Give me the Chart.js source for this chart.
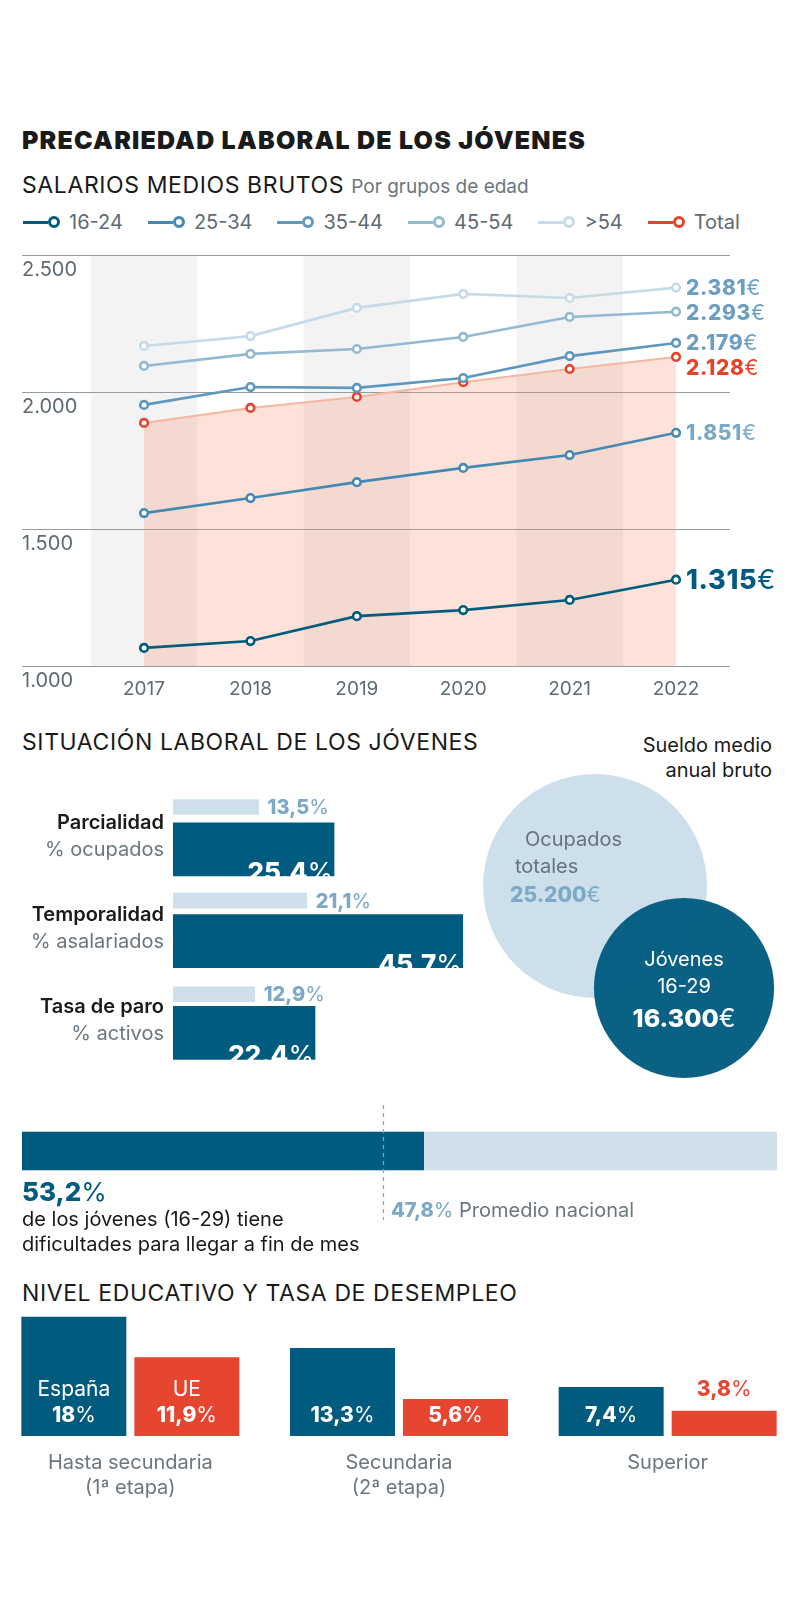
<!DOCTYPE html>
<html lang="es">
<head>
<meta charset="utf-8">
<title>Precariedad laboral de los jóvenes</title>
<script src="https://cdn.jsdelivr.net/npm/chart.js@4.4.1/dist/chart.umd.min.js"></script>
<style>
  body { margin: 0; background: #fff; }
  #page { position: relative; width: 800px; height: 1602px; overflow: hidden; font-family: Inter, Roboto, sans-serif; color: #1a1a1a; }
  canvas { position: absolute; }
  h1 { position: absolute; left: 22px; top: 125px; margin: 0; font-size: 25px; line-height: 30px; font-weight: 900; letter-spacing: 1.2px; }
  .sec { position: absolute; left: 22px; margin: 0; font-size: 23px; line-height: 26px; font-weight: 400; letter-spacing: 0.6px; }
  .sec small { font-size: 19px; color: #6b767d; letter-spacing: 0; }
  #legend { position: absolute; left: 23px; top: 210px; display: flex; gap: 25px; font-size: 20px; line-height: 24px; color: #5e6a72; }
  .item { display: flex; align-items: center; }
  .item .ln { width: 25px; height: 3px; }
  .item .ring { width: 6px; height: 6px; border: 3px solid; border-radius: 50%; background: #fff; margin-right: 9px; }
  .txt { position: absolute; font-size: 20px; line-height: 25px; }
  .gray { color: #6b767d; }
  b { font-weight: 800; }
</style>
</head>
<body>
<div id="page">
  <h1>PRECARIEDAD LABORAL DE LOS JÓVENES</h1>
  <div class="sec" style="top:172px">SALARIOS MEDIOS BRUTOS <small>Por grupos de edad</small></div>
  <div id="legend"></div>
  <canvas id="salaryChart" width="800" height="470" style="left:0;top:240px"></canvas>

  <div class="sec" style="top:729px">SITUACIÓN LABORAL DE LOS JÓVENES</div>
  <div class="txt" style="right:28px;top:733px;text-align:right">Sueldo medio<br>anual bruto</div>
  <canvas id="situationChart" width="480" height="330" style="left:0;top:760px"></canvas>
  <canvas id="wageChart" width="340" height="360" style="left:460px;top:730px"></canvas>

  <canvas id="hardshipChart" width="800" height="130" style="left:0;top:1095px"></canvas>
  <div id="hardshipText"></div>

  <div class="sec" style="top:1280px">NIVEL EDUCATIVO Y TASA DE DESEMPLEO</div>
  <canvas id="educationChart" width="806" height="215" style="left:-4px;top:1290px"></canvas>
</div>

<script>
// Salarios medios brutos por grupos de edad (euros/mes)
const years = [2017, 2018, 2019, 2020, 2021, 2022];
const age16to24 = [1066, 1091, 1182, 1204, 1241, 1315];
const age25to34 = [1558, 1613, 1671, 1723, 1770, 1851];
const age35to44 = [1953, 2018, 2015, 2051, 2131, 2179];
const age45to54 = [2095, 2139, 2157, 2201, 2274, 2293];
const ageOver54 = [2168, 2204, 2307, 2358, 2343, 2381];
const ageTotal = [1887, 1942, 1982, 2036, 2084, 2128];
const salaryTicks = [1000, 1500, 2000, 2500];

// Situación laboral de los jóvenes
const situationLabels = ['Parcialidad', 'Temporalidad', 'Tasa de paro'];
const situationUnits = ['% ocupados', '% asalariados', '% activos'];
const situationAll = [13.5, 21.1, 12.9];
const situationYouth = [25.4, 45.7, 22.4];

// Sueldo medio anual bruto
const wageLabels = [['Ocupados', 'totales'], ['Jóvenes', '16-29']];
const annualWage = [25200, 16300];

// Dificultades para llegar a fin de mes
const hardshipYouth = 53.2;
const hardshipNational = 47.8;

// Nivel educativo y tasa de desempleo
const educationLabels = [['Hasta secundaria', '(1ª etapa)'], ['Secundaria', '(2ª etapa)'], 'Superior'];
const unemploymentSpain = [18, 13.3, 7.4];
const unemploymentEU = [11.9, 5.6, 3.8];

const FONT = 'Inter, Roboto, sans-serif';
const DARK = '#005b7f';
const LIGHT = '#cfe0ea';
const MID = '#7ba9c6';
const RED = '#e5432b';

Chart.defaults.font.family = FONT;

function thousands(v) {
    return String(v).replace(/\B(?=(\d{3})+(?!\d))/g, '.');
}
function comma(v) {
    return String(v).replace('.', ',');
}

// bold number followed by a light unit
function drawSplit(ctx, strong, light, x, y, align, size, color, baseline, spacing) {
    ctx.save();
    ctx.textBaseline = baseline || 'middle';
    ctx.textAlign = 'left';
    ctx.fillStyle = color;
    ctx.letterSpacing = (spacing || 0) + 'px';
    ctx.font = '800 ' + size + 'px ' + FONT;
    const w1 = ctx.measureText(strong).width;
    ctx.font = '400 ' + size + 'px ' + FONT;
    const w2 = ctx.measureText(light).width;
    let left = x;
    if (align === 'right') left = x - w1 - w2;
    if (align === 'center') left = x - (w1 + w2) / 2;
    ctx.font = '800 ' + size + 'px ' + FONT;
    ctx.fillText(strong, left, y);
    ctx.font = '400 ' + size + 'px ' + FONT;
    ctx.fillText(light, left + w1, y);
    ctx.restore();
}

// ---------- Salarios ----------
const series = [
    { label: '16-24', data: age16to24, color: DARK, text: DARK, size: 27 },
    { label: '25-34', data: age25to34, color: '#4489b3', text: '#7aa8c7', size: 21 },
    { label: '35-44', data: age35to44, color: '#5e98bd', text: '#6b9ec1', size: 21 },
    { label: '45-54', data: age45to54, color: '#92bad2', text: '#6b9ec1', size: 21 },
    { label: '>54', data: ageOver54, color: '#c6dbe8', text: '#6b9ec1', size: 21 },
    { label: 'Total', data: ageTotal, color: RED, text: RED, size: 21 }
];

const legend = document.getElementById('legend');
series.forEach(s => {
    const item = document.createElement('div');
    item.className = 'item';
    item.innerHTML = '<span class="ln" style="background:' + s.color + '"></span>' +
        '<span class="ring" style="border-color:' + s.color + '"></span>' + s.label;
    legend.appendChild(item);
});

const bandPlugin = {
    id: 'bands',
    beforeDraw(chart) {
        const { ctx, chartArea, scales } = chart;
        ctx.save();
        ctx.fillStyle = '#f3f3f3';
        years.filter((y, i) => i % 2 === 0).forEach(y => {
            const x0 = scales.x.getPixelForValue(y - 0.5);
            const x1 = scales.x.getPixelForValue(y + 0.5);
            ctx.fillRect(x0, chartArea.top, x1 - x0, chartArea.bottom - chartArea.top);
        });
        ctx.restore();
    }
};

const endLabelPlugin = {
    id: 'endLabels',
    afterDatasetsDraw(chart) {
        const ctx = chart.ctx;
        const items = series.map((s, i) => {
            const pt = chart.getDatasetMeta(i).data[s.data.length - 1];
            return { s, x: pt.x, y: pt.y };
        }).sort((a, b) => a.y - b.y);
        let prev = -Infinity;
        items.forEach(it => {
            let y = Math.max(it.y, prev + 25);
            prev = y;
            drawSplit(ctx, thousands(it.s.data[it.s.data.length - 1]), '€', it.x + 10, y + 1,
                'left', it.s.size, it.s.text, 'middle', 0.6);
        });
    }
};

new Chart(document.getElementById('salaryChart'), {
    type: 'line',
    data: {
        datasets: series.map(s => {
            const isTotal = s.label === 'Total';
            return {
                label: s.label,
                data: s.data.map((v, i) => ({ x: years[i], y: v })),
                borderColor: isTotal ? '#f6b6a1' : s.color,
                borderWidth: isTotal ? 2 : 2.6,
                pointBorderColor: s.color,
                pointBackgroundColor: '#fff',
                pointRadius: 3.8,
                pointBorderWidth: 2.6,
                fill: isTotal ? 'start' : false,
                backgroundColor: isTotal ? 'rgba(245,150,115,0.28)' : s.color,
                tension: 0
            };
        })
    },
    options: {
        responsive: false,
        animation: false,
        events: [],
        layout: { padding: { left: 22, right: 70, top: 15, bottom: 0 } },
        plugins: { legend: { display: false }, tooltip: { enabled: false } },
        scales: {
            x: {
                type: 'linear',
                min: 2015.853,
                max: 2022.507,
                afterBuildTicks: s => { s.ticks = years.map(v => ({ value: v })); },
                afterFit: s => { s.height = 44; },
                grid: { display: false, drawTicks: false },
                border: { display: false },
                ticks: { color: '#5e6a72', font: { size: 19 }, padding: 12, callback: v => String(v) }
            },
            y: {
                min: 1000,
                max: 2500,
                afterBuildTicks: s => { s.ticks = salaryTicks.map(v => ({ value: v })); },
                afterFit: s => { s.width = 0; },
                grid: { color: '#939ca2', lineWidth: 1, drawTicks: false },
                border: { display: false },
                ticks: { mirror: true, padding: 0, labelOffset: 15, color: '#5e6a72', font: { size: 20 }, callback: v => thousands(v) }
            }
        }
    },
    plugins: [bandPlugin, endLabelPlugin]
});

// ---------- Situación laboral ----------
const situationText = {
    id: 'situationText',
    afterDatasetsDraw(chart) {
        const ctx = chart.ctx;
        chart.getDatasetMeta(1).data.forEach((bar, i) => {
            ctx.save();
            ctx.textAlign = 'right';
            ctx.textBaseline = 'middle';
            ctx.font = '600 20px ' + FONT;
            ctx.fillStyle = '#1a1a1a';
            ctx.fillText(situationLabels[i], 164, bar.y - 26);
            ctx.font = '400 20px ' + FONT;
            ctx.fillStyle = '#6b767d';
            ctx.fillText(situationUnits[i], 164, bar.y + 1);
            ctx.restore();
            drawSplit(ctx, situationYouth[i].toFixed(1), '%', bar.x - 1, bar.y + bar.height / 2 + 5,
                'right', 26, '#fff', 'alphabetic');
        });
        chart.getDatasetMeta(0).data.forEach((bar, i) => {
            drawSplit(ctx, comma(situationAll[i]), '%', bar.x + 9, bar.y + 1, 'left', 20, MID, 'middle');
        });
    }
};

new Chart(document.getElementById('situationChart'), {
    type: 'bar',
    data: {
        datasets: [
            { data: situationAll.map((v, i) => ({ x: v, y: i })), yAxisID: 'yAll', backgroundColor: LIGHT, barThickness: 15, grouped: false },
            { data: situationYouth.map((v, i) => ({ x: v, y: i })), yAxisID: 'yYouth', backgroundColor: DARK, barThickness: 53, grouped: false }
        ]
    },
    options: {
        indexAxis: 'y',
        responsive: false,
        animation: false,
        events: [],
        layout: { padding: { left: 173, right: 9, top: 10, bottom: 0 } },
        plugins: { legend: { display: false }, tooltip: { enabled: false } },
        scales: {
            x: { type: 'linear', min: 0, max: 47, display: false },
            yAll: { type: 'linear', axis: 'y', reverse: true, min: -0.182, max: 2.8086, display: false },
            yYouth: { type: 'linear', axis: 'y', reverse: true, min: -0.6168, max: 2.3738, display: false }
        }
    },
    plugins: [situationText]
});

// ---------- Sueldo medio anual ----------
const wageText = {
    id: 'wageText',
    afterDatasetsDraw(chart) {
        const ctx = chart.ctx;
        const [all, young] = chart.getDatasetMeta(0).data;
        ctx.save();
        ctx.textBaseline = 'middle';
        ctx.font = '400 20px ' + FONT;
        ctx.fillStyle = '#66737b';
        ctx.textAlign = 'left';
        ctx.fillText(wageLabels[0][0], all.x - 70, all.y - 46);
        ctx.fillText(wageLabels[0][1], all.x - 80, all.y - 19);
        ctx.fillStyle = '#fff';
        ctx.textAlign = 'center';
        ctx.fillText(wageLabels[1][0], young.x, young.y - 28);
        ctx.fillText(wageLabels[1][1], young.x, young.y - 1);
        ctx.restore();
        drawSplit(ctx, thousands(annualWage[0]), '€', all.x - 85, all.y + 10, 'left', 21, MID, 'middle');
        drawSplit(ctx, thousands(annualWage[1]), '€', young.x, young.y + 31, 'center', 25, '#fff', 'middle');
    }
};

new Chart(document.getElementById('wageChart'), {
    type: 'bubble',
    data: {
        datasets: [{
            data: annualWage.map((v, i) => ({ x: i, y: i, r: 0.7055 * Math.sqrt(v) })),
            backgroundColor: ['#cddfea', 'rgba(0,91,127,0.96)'],
            borderWidth: 0,
            clip: false
        }]
    },
    options: {
        responsive: false,
        animation: false,
        events: [],
        layout: { padding: 0, autoPadding: false },
        plugins: { legend: { display: false }, tooltip: { enabled: false } },
        scales: {
            x: { type: 'linear', min: -1.517, max: 2.303, display: false },
            y: { type: 'linear', reverse: true, min: -1.529, max: 2.0, display: false }
        }
    },
    plugins: [wageText]
});

// ---------- Dificultades fin de mes ----------
const nationalLine = {
    id: 'nationalLine',
    afterDatasetsDraw(chart) {
        const ctx = chart.ctx;
        const x = Math.round(chart.scales.x.getPixelForValue(hardshipNational)) + 0.5;
        ctx.save();
        ctx.strokeStyle = MID;
        ctx.lineWidth = 1.2;
        ctx.setLineDash([4, 4]);
        ctx.beginPath();
        ctx.moveTo(x, 10);
        ctx.lineTo(x, 125);
        ctx.stroke();
        ctx.restore();
    }
};

new Chart(document.getElementById('hardshipChart'), {
    type: 'bar',
    data: {
        labels: ['Jóvenes'],
        datasets: [
            { data: [hardshipYouth], backgroundColor: DARK, barThickness: 38, grouped: false },
            { data: [100], backgroundColor: LIGHT, barThickness: 38, grouped: false }
        ]
    },
    options: {
        indexAxis: 'y',
        responsive: false,
        animation: false,
        events: [],
        layout: { padding: { left: 22, right: 23, top: 0, bottom: 18 } },
        plugins: { legend: { display: false }, tooltip: { enabled: false } },
        scales: {
            x: { min: 0, max: 100, display: false },
            y: { display: false }
        }
    },
    plugins: [nationalLine]
});

document.getElementById('hardshipText').innerHTML =
    '<div class="txt" style="left:22px;top:1177px;font-size:26px;line-height:30px;color:' + DARK + '"><b>' + comma(hardshipYouth) + '</b>%</div>' +
    '<div class="txt" style="left:22px;top:1207px">de los jóvenes (16-29) tiene<br>dificultades para llegar a fin de mes</div>' +
    '<div class="txt gray" style="left:391px;top:1198px"><b style="color:' + MID + '">' + comma(hardshipNational) + '</b><span style="color:' + MID + '">%</span> Promedio nacional</div>';

// ---------- Nivel educativo ----------
const educationText = {
    id: 'educationText',
    afterDatasetsDraw(chart) {
        const ctx = chart.ctx;
        const base = chart.scales.y.getPixelForValue(0);
        chart.data.datasets.forEach((ds, d) => {
            chart.getDatasetMeta(d).data.forEach((bar, i) => {
                const value = comma(ds.data[i]);
                if (i === 0) {
                    ctx.save();
                    ctx.font = '400 21px ' + FONT;
                    ctx.fillStyle = '#fff';
                    ctx.textAlign = 'center';
                    ctx.textBaseline = 'middle';
                    ctx.fillText(ds.label, bar.x, base - 46);
                    ctx.restore();
                }
                if (base - bar.y >= 32) {
                    drawSplit(ctx, value, '%', bar.x, base - 20, 'center', 21, '#fff', 'middle');
                } else {
                    drawSplit(ctx, value, '%', bar.x, bar.y - 21, 'center', 21, ds.backgroundColor, 'middle');
                }
            });
        });
    }
};

new Chart(document.getElementById('educationChart'), {
    type: 'bar',
    data: {
        labels: educationLabels,
        datasets: [
            { label: 'España', data: unemploymentSpain, backgroundColor: DARK },
            { label: 'UE', data: unemploymentEU, backgroundColor: '#e64530' }
        ]
    },
    options: {
        responsive: false,
        animation: false,
        events: [],
        categoryPercentage: 0.8412,
        barPercentage: 0.929,
        layout: { padding: { left: 0, right: 0, top: 13.6, bottom: 0 } },
        plugins: { legend: { display: false }, tooltip: { enabled: false } },
        scales: {
            x: {
                grid: { display: false, drawTicks: false },
                border: { display: false },
                afterFit: s => { s.height = 69; },
                ticks: { color: '#6b767d', font: { size: 20, lineHeight: 1.25 }, padding: 14.5 }
            },
            y: { min: 0, max: 20, display: false }
        }
    },
    plugins: [educationText]
});
</script>
</body>
</html>
